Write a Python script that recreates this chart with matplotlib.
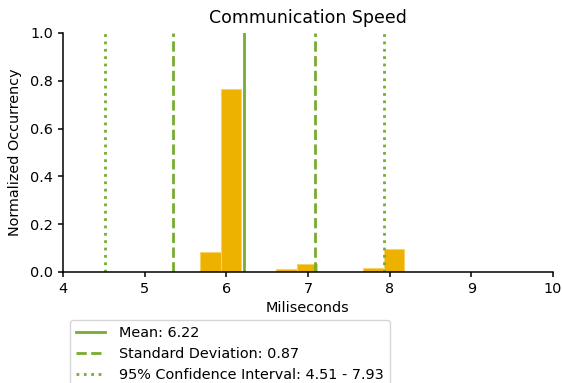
import matplotlib
matplotlib.use("Agg")
import matplotlib.pyplot as plt

# histogram bars (left edge, width, normalized height)
bar_left = [5.68, 5.93, 6.61, 6.86, 7.67, 7.93]
bar_width = [0.25, 0.25, 0.25, 0.25, 0.25, 0.25]
bar_height = [0.082, 0.764, 0.0125, 0.032, 0.015, 0.097]

mean = 6.22
std = 0.87
ci_low, ci_high = 4.51, 7.93

plt.rcParams['font.size'] = 10.4

fig = plt.figure(figsize=(5.62, 3.83), dpi=100)
ax = fig.add_axes([0.112, 0.29, 0.872, 0.624])

ax.bar(bar_left, bar_height, width=bar_width, align='edge',
       color='#EDB100', edgecolor='#F5D266', linewidth=0.8)

green = '#77AC30'
ax.axvline(mean, color=green, lw=2, ls='-', label='Mean: {:.2f}'.format(mean))
ax.axvline(mean - std, color=green, lw=2, ls='--', label='Standard Deviation: {:.2f}'.format(std))
ax.axvline(mean + std, color=green, lw=2, ls='--')
ax.axvline(ci_low, color=green, lw=2, ls=':',
           label='95% Confidence Interval: {:.2f} - {:.2f}'.format(ci_low, ci_high))
ax.axvline(ci_high, color=green, lw=2, ls=':')

ax.set_xlim(4, 10)
ax.set_ylim(0, 1)
ax.set_xticks([4, 5, 6, 7, 8, 9, 10])
ax.set_yticks([0, 0.2, 0.4, 0.6, 0.8, 1.0])
ax.spines['top'].set_visible(False)
ax.spines['right'].set_visible(False)
for s in ['left', 'bottom']:
    ax.spines[s].set_linewidth(1.1)
ax.tick_params(width=1.1)
ax.set_title("Communication Speed", fontsize=12.5, pad=7)
ax.set_xlabel("Miliseconds")
ax.set_ylabel("Normalized Occurrency", labelpad=6)

fig.legend(loc='upper left', bbox_to_anchor=(70 / 562, 1 - 320 / 383),
           borderaxespad=0, fancybox=True, handlelength=2.0, handletextpad=1.0)

fig.savefig("out.png", dpi=100)
